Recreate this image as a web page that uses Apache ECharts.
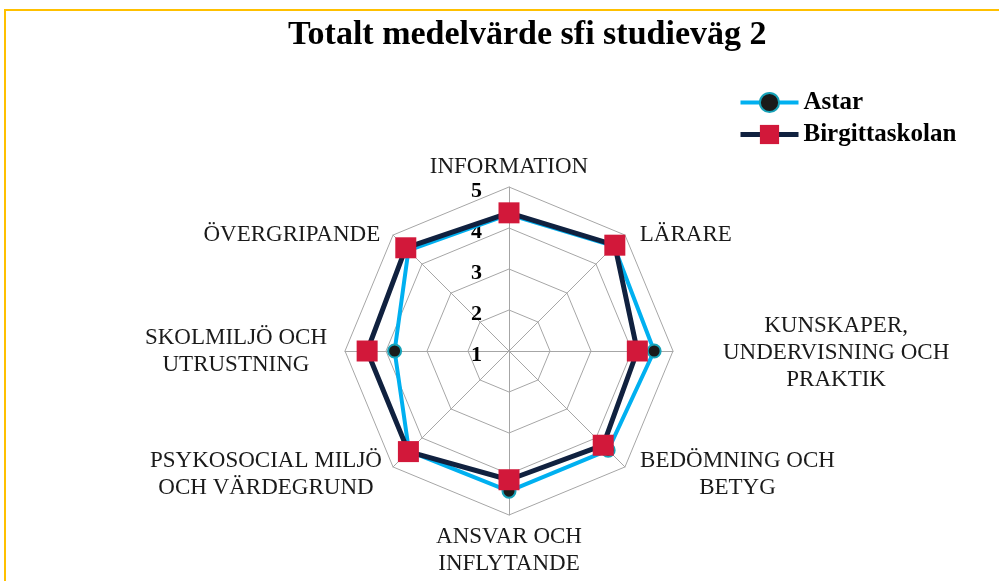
<!DOCTYPE html>
<html>
<head>
<meta charset="utf-8">
<script src="https://cdn.jsdelivr.net/npm/echarts@6/dist/echarts.min.js"></script>
<style>
  html, body { margin: 0; padding: 0; background: #fff; overflow: hidden; }
  #frame { position: absolute; left: 4px; top: 9px; width: 1100px; height: 700px;
           border-left: 2px solid #FFC000; border-top: 2px solid #FFC000; }
  #chart { position: absolute; left: 0; top: 0; width: 999px; height: 581px; }
</style>
</head>
<body>
<div id="frame"></div>
<div id="chart"></div>
<script>
// categories clockwise from the top, as in the picture
const categories = [
  'INFORMATION',
  'LÄRARE',
  'KUNSKAPER,\nUNDERVISNING OCH\nPRAKTIK',
  'BEDÖMNING OCH\nBETYG',
  'ANSVAR OCH\nINFLYTANDE',
  'PSYKOSOCIAL MILJÖ\nOCH VÄRDEGRUND',
  'SKOLMILJÖ OCH\nUTRUSTNING',
  'ÖVERGRIPANDE'
]
const astar = [4.33, 4.62, 4.54, 4.42, 4.42, 4.45, 3.79, 4.47]
const birgitta = [4.37, 4.65, 4.13, 4.25, 4.14, 4.47, 4.46, 4.56]
const scaleMin = 1
const scaleMax = 5

// echarts lays indicators out counter-clockwise, so walk the list backwards
const order = [0, 7, 6, 5, 4, 3, 2, 1]
// label placement per category (same order as categories)
const nameGaps = [-5, 4, 50, 10, 8, 10, 16, 4]
const namePads = [
  [0, 0, 0, 0],
  [6, 0, 0, 12],
  [4, 0, 0, 0],
  [0, 0, 0, 8],
  [0, 0, 0, 0],
  [0, 4, 0, 0],
  [0, 2, 0, 0],
  [6, 10, 0, 0]
]

const serif = '"Liberation Serif", "Times New Roman", serif'
const astarLine = { color: '#00B0F0', width: 4 }
const astarItem = { color: '#1A1A1A', borderColor: '#17A2B8', borderWidth: 2 }
const birgLine = { color: '#10213F', width: 5 }
const birgItem = { color: '#D2183A', borderWidth: 0 }

const chart = echarts.init(document.getElementById('chart'))

chart.setOption({
  backgroundColor: 'transparent',
  animation: false,
  title: {
    text: 'Totalt medelvärde sfi studieväg 2',
    left: 283,
    top: 13,
    textStyle: { fontFamily: serif, fontSize: 34, fontWeight: 'bold', color: '#000' }
  },
  legend: {
    orient: 'vertical',
    left: 733,
    top: 85,
    itemWidth: 58,
    itemHeight: 24,
    itemGap: 7,
    data: ['Astar', 'Birgittaskolan'],
    lineStyle: { width: 'inherit' },
    textStyle: { fontFamily: serif, fontSize: 25, fontWeight: 'bold', color: '#000' }
  },
  // hidden grid only so the legend gets line-style icons
  grid: { show: false, left: 0, top: 0, width: 1, height: 1 },
  xAxis: { show: false, type: 'category', data: [] },
  yAxis: { show: false, type: 'value' },
  radar: {
    center: [509, 351],
    radius: 164,
    shape: 'polygon',
    splitNumber: 4,
    axisLine: { lineStyle: { color: '#A6A6A6', width: 1 } },
    splitLine: { lineStyle: { color: '#A6A6A6', width: 1 } },
    splitArea: { show: false },
    axisLabel: { show: false },
    axisName: {
      fontFamily: serif,
      fontSize: 23,
      color: '#1A1A1A',
      lineHeight: 27,
      formatter: function (name) {
        return name.split('\n').map(function (l) { return '{c|' + l + '}' }).join('\n')
      },
      rich: { c: { align: 'center', fontFamily: serif, fontSize: 23, color: '#1A1A1A', lineHeight: 27 } }
    },
    indicator: order.map(function (i) {
      const ind = {
        name: categories[i], min: scaleMin, max: scaleMax,
        nameGap: nameGaps[i],
        nameTextStyle: { padding: namePads[i] }
      }
      if (i === 0) {
        ind.axisLabel = {
          show: true, margin: 27,
          formatter: function (v) { return '{n|' + v + '}' },
          rich: {
            n: { fontFamily: serif, fontSize: 22, fontWeight: 'bold', color: '#000', padding: [8, 0, 0, 0] }
          }
        }
      }
      return ind
    })
  },
  series: [
    {
      type: 'radar',
      data: [
        {
          name: 'Astar',
          value: order.map(function (i) { return astar[i] }),
          symbol: 'circle',
          symbolSize: 13,
          lineStyle: astarLine,
          itemStyle: astarItem
        },
        {
          name: 'Birgittaskolan',
          value: order.map(function (i) { return birgitta[i] }),
          symbol: 'rect',
          symbolSize: 21,
          lineStyle: birgLine,
          itemStyle: birgItem
        }
      ]
    },
    { type: 'line', name: 'Astar', data: [], symbol: 'circle', lineStyle: astarLine, itemStyle: astarItem },
    { type: 'line', name: 'Birgittaskolan', data: [], symbol: 'rect', lineStyle: birgLine, itemStyle: birgItem }
  ]
})
</script>
</body>
</html>
